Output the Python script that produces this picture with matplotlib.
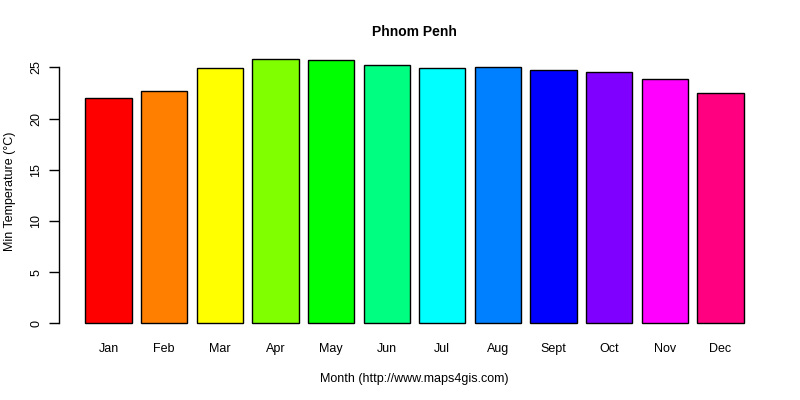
import matplotlib.pyplot as plt

months = ['Jan', 'Feb', 'Mar', 'Apr', 'May', 'Jun', 'Jul', 'Aug', 'Sept', 'Oct', 'Nov', 'Dec']
min_temp = [22.0, 22.7, 24.9, 25.8, 25.7, 25.2, 24.9, 25.0, 24.7, 24.5, 23.9, 22.5]
colors = ['#FF0000', '#FF8000', '#FFFF00', '#80FF00', '#00FF00', '#00FF80',
          '#00FFFF', '#0080FF', '#0000FF', '#8000FF', '#FF00FF', '#FF0080']
yticks = [0, 5, 10, 15, 20, 25]

plt.rcParams['font.family'] = ['Liberation Sans', 'DejaVu Sans']

fig = plt.figure(figsize=(8, 4), dpi=100)
ax = fig.add_axes([0.07375, 0.165, 0.88875, 0.7135])

# R barplot layout: width 1, space 0.2
xs = [0.7 + 1.2 * i for i in range(len(months))]
ax.bar(xs, min_temp, width=1.0, color=colors, edgecolor='black', linewidth=1)

lo, hi = 0.2, xs[-1] + 0.5
pad = 0.04 * (hi - lo)
ax.set_xlim(lo - pad, hi + pad)
top = max(min_temp)
ax.set_ylim(-0.04 * top, top * 1.04)

for s in ['top', 'right', 'bottom']:
    ax.spines[s].set_visible(False)
ax.spines['left'].set_bounds(0, 25)
ax.spines['left'].set_linewidth(1)

ax.set_yticks(yticks)
ax.set_yticklabels([str(v) for v in yticks], rotation=90, va='center', fontsize=9)
ax.tick_params(axis='y', length=7, width=1, pad=5)
ax.set_xticks(xs)
ax.set_xticklabels(months, fontsize=9)
ax.tick_params(axis='x', length=0, pad=6.5)

ax.set_title('Phnom Penh', fontsize=10, fontweight='bold', pad=9)
ax.set_xlabel('Month (http://www.maps4gis.com)', fontsize=9, labelpad=13)
ax.set_ylabel('Min Temperature (°C)', fontsize=9, labelpad=10)

fig.savefig('out.png', dpi=100)
